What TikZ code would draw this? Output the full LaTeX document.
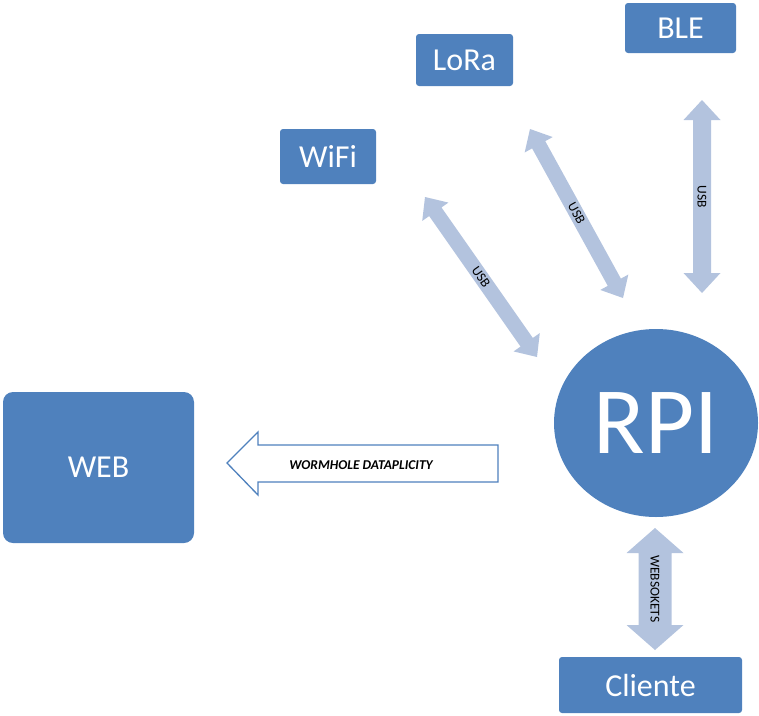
\documentclass[tikz,border=0pt]{standalone}
\usepackage{fontspec}
\setmainfont{Carlito}
\usetikzlibrary{calc,shapes.geometric}
\definecolor{boxblue}{HTML}{4F81BD}
\definecolor{arrowblue}{HTML}{B3C3DE}
% double arrow polygon: #1,#2 tips; #3 shaft half width; #4 head half width; #5 head length
\newcommand{\dblarr}[5]{%
  \fill[arrowblue] (#1)
    -- ($(#1)!#5!(#2)!#4!90:(#2)$)
    -- ($(#1)!#5!(#2)!#3!90:(#2)$)
    -- ($(#2)!#5!(#1)!#3!-90:(#1)$)
    -- ($(#2)!#5!(#1)!#4!-90:(#1)$)
    -- (#2)
    -- ($(#2)!#5!(#1)!#4!90:(#1)$)
    -- ($(#2)!#5!(#1)!#3!90:(#1)$)
    -- ($(#1)!#5!(#2)!#3!-90:(#2)$)
    -- ($(#1)!#5!(#2)!#4!-90:(#2)$)
    -- cycle;}
\begin{document}
\begin{tikzpicture}[x=1pt,y=-1pt,
  box/.style={fill=boxblue, text=white, rounded corners=3pt, inner sep=0pt,
    font=\fontsize{32}{38}\selectfont},
  lbl/.style={font=\fontsize{13.5}{15}\selectfont, inner sep=0pt}]
\useasboundingbox (0,0) rectangle (759,715);

% nodes
\node[box, minimum width=96pt, minimum height=55pt] (wifi) at (328,156.5) {WiFi};
\node[box, minimum width=97pt, minimum height=52pt] (lora) at (464.5,60) {LoRa};
\node[box, minimum width=111pt, minimum height=50pt] (ble) at (680.5,28) {BLE};
\node[box, minimum width=183pt, minimum height=56pt] (cliente) at (650.5,685) {Cliente};
\node[box, rounded corners=10pt, minimum width=191pt, minimum height=151pt] (web) at (98.5,467.5) {WEB};
\node[ellipse, fill=boxblue, text=white, inner sep=0pt, minimum width=204pt, minimum height=188pt,
  font=\fontsize{95}{110}\selectfont] (rpi) at (656,423) {RPI};

% arrow end points
\coordinate (wifiA) at (425,197);
\coordinate (wifiB) at (537,357);
\coordinate (loraA) at (530,129);
\coordinate (loraB) at (623,298);
\coordinate (bleA) at (702,100);
\coordinate (bleB) at (702,293);
\coordinate (wsA) at (655,528);
\coordinate (wsB) at (655,650);

\dblarr{wifiA}{wifiB}{7.5pt}{16pt}{18pt}
\dblarr{loraA}{loraB}{7.5pt}{16pt}{18pt}
\dblarr{bleA}{bleB}{9pt}{18.5pt}{20pt}
\dblarr{wsA}{wsB}{16.5pt}{28.5pt}{25pt}

\path (wifiA) -- (wifiB) node[midway, sloped, lbl] (wifiLbl) {USB};
\path (loraA) -- (loraB) node[midway, sloped, lbl] (loraLbl) {USB};
\node[lbl, rotate=-90] (bleLbl) at ($(bleA)!0.5!(bleB)$) {USB};
\node[lbl, rotate=-90] (wsLbl) at ($(wsA)!0.5!(wsB)$) {WEBSOKETS};

% wormhole arrow
\coordinate (wtip) at (227,463);
\coordinate (wend) at (498,463.5);
\draw[boxblue, line width=1.3pt, fill=white, line join=miter]
  (wtip) -- ($(wtip)+(31,-31)$) -- ($(wtip)+(31,-18)$) -- ($(wend)+(0,-18.5)$)
  -- ($(wend)+(0,18.5)$) -- ($(wtip)+(31,19)$) -- ($(wtip)+(31,32)$) -- cycle;
\node[font=\fontsize{13.5}{15}\selectfont\bfseries\itshape, inner sep=0pt] (wlbl) at (361,465) {WORMHOLE DATAPLICITY};
\end{tikzpicture}
\end{document}
